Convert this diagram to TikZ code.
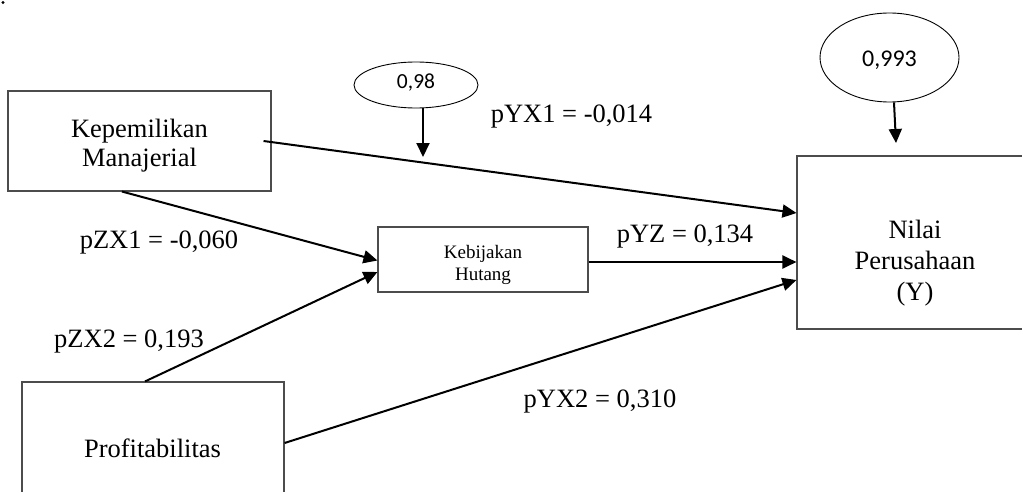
\documentclass[tikz,border=0pt]{standalone}
\usepackage{fontspec}
\setmainfont{Liberation Serif}
\newfontfamily\calib{Carlito}
\usetikzlibrary{arrows.meta,shapes.geometric,calc}
\tikzset{
  varbox/.style={draw=black!70, line width=1.1pt, rectangle, inner sep=0pt},
  resid/.style={draw=black, line width=0.9pt, ellipse, inner sep=0pt},
  txt/.style={inner sep=0pt, anchor=base, align=center},
  big/.style={font=\fontsize{26.5}{30}\selectfont},
  small/.style={font=\fontsize{19}{22}\selectfont},
  path/.style={draw=black, line width=2pt, -{Triangle[length=14pt,width=13pt]}},
}
\begin{document}
\begin{tikzpicture}[x=1pt,y=-1pt]
\useasboundingbox (0,0) rectangle (1022,492);
\fill (3,2.5) circle (1.7);

% variable boxes
\node[varbox, minimum width=263pt, minimum height=100pt] (km) at (139.5,141) {};
\node[varbox, minimum width=210pt, minimum height=65pt] (kh) at (483,259.5) {};
\node[varbox, minimum width=262pt, minimum height=132pt] (pr) at (153,448) {};
\node[varbox, minimum width=236pt, minimum height=173pt] (ny) at (915,242.5) {};

% box texts (anchored at the baseline of the last line)
\node[txt, big, font=\fontsize{26.5}{29}\selectfont] (kmt) at (139.5,166) {Kepemilikan\\Manajerial};
\node[txt, small] (kht) at (483,280) {Kebijakan\\Hutang};
\node[txt, big] (prt) at (152.5,457) {Profitabilitas};
\node[txt, big, font=\fontsize{26.5}{31}\selectfont] (nyt) at (915,300) {Nilai\\Perusahaan\\(Y)};

% residual ellipses
\node[resid, minimum width=124pt, minimum height=46pt] (e1) at (416,85) {};
\node[txt, font=\calib\fontsize{21.5}{24}\selectfont] (e1t) at (416,89) {0,98};
\node[resid, minimum width=139pt, minimum height=89pt] (e2) at (889.5,57.5) {};
\node[txt, font=\calib\fontsize{24}{28}\selectfont] (e2t) at (889.5,67) {0,993};

% residual arrows
\coordinate (r1) at (423,157);
\coordinate (r2) at (896,143);
\draw[path] (e1.south -| r1) -- (r1);
\draw[path] ([xshift=4.5pt]e2.south) -- (r2);

% paths
\draw[path] ([xshift=-8pt]km.east) -- (ny.west |- 0,213);
\draw[path] ([xshift=-17.5pt]km.south) -- ([yshift=-1pt]kh.west);
\draw[path] ([xshift=-8pt]pr.north) -- ([yshift=-12.5pt]kh.west);
\draw[path] ([yshift=-2.5pt]kh.east) -- (ny.west |- 0,262);
\draw[path] ([yshift=5pt]pr.east) -- (ny.west |- 0,280);

% coefficients
\node[txt, big] (l1) at (571.5,123) {pYX1 = -0,014};
\node[txt, big] (l2) at (159,248) {pZX1 = -0,060};
\node[txt, big] (l3) at (129,347) {pZX2 = 0,193};
\node[txt, big] (l4) at (685,242) {pYZ = 0,134};
\node[txt, big] (l5) at (600,407) {pYX2 = 0,310};
\end{tikzpicture}
\end{document}
